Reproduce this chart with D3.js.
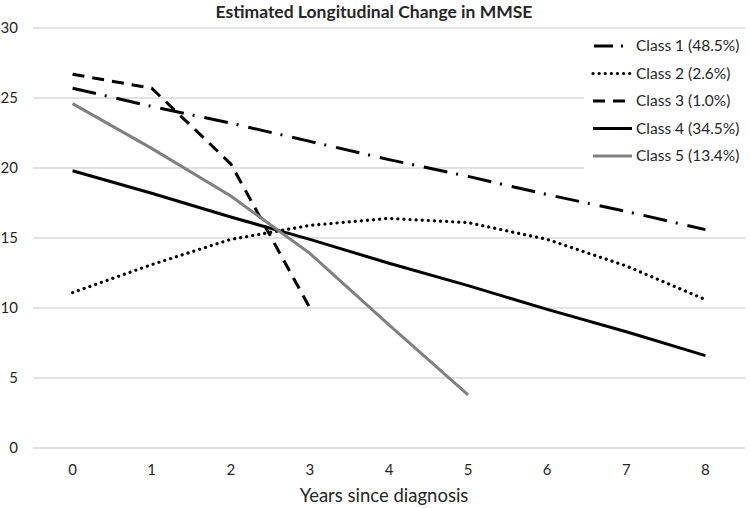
<!DOCTYPE html>
<html>
<head>
<meta charset="utf-8">
<script src="https://cdn.jsdelivr.net/npm/d3@7"></script>
<style>
  body { margin: 0; background: #fff; }
  text { font-family: Lato, "Open Sans", sans-serif; fill: #262626; }
</style>
</head>
<body>
<svg id="chart"></svg>
<script>
/** data */
var years = [0, 1, 2, 3, 4, 5, 6, 7, 8];
var yTicks = [0, 5, 10, 15, 20, 25, 30];
var classNames = ["Class 1 (48.5%)", "Class 2 (2.6%)", "Class 3 (1.0%)", "Class 4 (34.5%)", "Class 5 (13.4%)"];
var class1 = [25.7, 24.4, 23.2, 21.9, 20.6, 19.4, 18.1, 16.9, 15.6];
var class2 = [11.1, 13.1, 14.9, 15.9, 16.4, 16.1, 14.9, 13.0, 10.6];
var class3 = [26.7, 25.7, 20.3, 10.0];
var class4 = [19.8, 18.2, 16.5, 14.9, 13.2, 11.6, 9.9, 8.3, 6.6];
var class5 = [24.6, 21.4, 18.0, 13.9, 8.8, 3.8];

var width = 750, height = 508;
var margin = {top: 28, right: 5, bottom: 60, left: 33};

var svg = d3.select('#chart')
    .attr('width', width)
    .attr('height', height);

/** line styles for each class */
var styles = [
  {color: "#000", width: 3, dash: "24 9 2 10"},
  {color: "#000", width: 3.2, dash: "0.1 6", cap: "round"},
  {color: "#000", width: 3, dash: "12 8"},
  {color: "#000", width: 3, dash: null},
  {color: "#808080", width: 3, dash: null}
];
var series = [class1, class2, class3, class4, class5];

var x = d3.scalePoint()
    .domain(years)
    .range([margin.left, width - margin.right])
    .padding(0.5);

var y = d3.scaleLinear()
    .domain([0, 30])
    .range([height - margin.bottom, margin.top]);

/** horizontal gridlines */
svg.append('g')
  .selectAll('line')
  .data(yTicks)
  .enter().append('line')
    .attr('x1', margin.left)
    .attr('x2', width - margin.right)
    .attr('y1', d => y(d))
    .attr('y2', d => y(d))
    .style('stroke', '#d9d9d9')
    .style('stroke-width', 1.3);

/** y tick labels */
svg.append('g')
  .selectAll('text')
  .data(yTicks)
  .enter().append('text')
    .attr('x', 18)
    .attr('y', d => y(d))
    .attr('dy', '0.35em')
    .style('text-anchor', 'end')
    .style('font-size', '15px')
    .text(d => d);

/** x tick labels */
svg.append('g')
  .selectAll('text')
  .data(years)
  .enter().append('text')
    .attr('x', d => x(d))
    .attr('y', 475)
    .style('text-anchor', 'middle')
    .style('font-size', '15px')
    .text(d => d);

/** the five class lines */
var line = d3.line()
    .x((d, i) => x(years[i]))
    .y(d => y(d));

svg.append('g')
  .selectAll('path')
  .data(series)
  .enter().append('path')
    .attr('d', d => line(d))
    .style('fill', 'none')
    .style('stroke', (d, i) => styles[i].color)
    .style('stroke-width', (d, i) => styles[i].width)
    .style('stroke-dasharray', (d, i) => styles[i].dash)
    .style('stroke-linecap', (d, i) => styles[i].cap || 'butt');

/** legend with white box over the grid */
svg.append('rect')
    .attr('x', 584)
    .attr('y', 31)
    .attr('width', 166)
    .attr('height', 142)
    .style('fill', '#fff');

var legend = svg.append('g')
  .selectAll('g')
  .data(classNames)
  .enter().append('g')
    .attr('transform', (d, i) => 'translate(0,' + (46 + i * 27.5) + ')');

legend.append('line')
    .attr('x1', (d, i) => i == 0 ? 594 : 593)
    .attr('x2', 632)
    .style('stroke', (d, i) => styles[i].color)
    .style('stroke-width', (d, i) => styles[i].width)
    .style('stroke-dasharray', (d, i) => i == 0 ? "19 8 2 10" : styles[i].dash)
    .style('stroke-linecap', (d, i) => styles[i].cap || 'butt');

legend.append('text')
    .attr('x', 636)
    .attr('dy', '0.35em')
    .style('font-size', '15.5px')
    .text(d => d);

/** titles */
svg.append('text')
    .attr('x', 374)
    .attr('y', 18)
    .style('text-anchor', 'middle')
    .style('font-size', '17.5px')
    .style('font-weight', 'bold')
    .text('Estimated Longitudinal Change in MMSE');

svg.append('text')
    .attr('x', 384)
    .attr('y', 502)
    .style('text-anchor', 'middle')
    .style('font-size', '18.5px')
    .text('Years since diagnosis');
</script>
</body>
</html>
